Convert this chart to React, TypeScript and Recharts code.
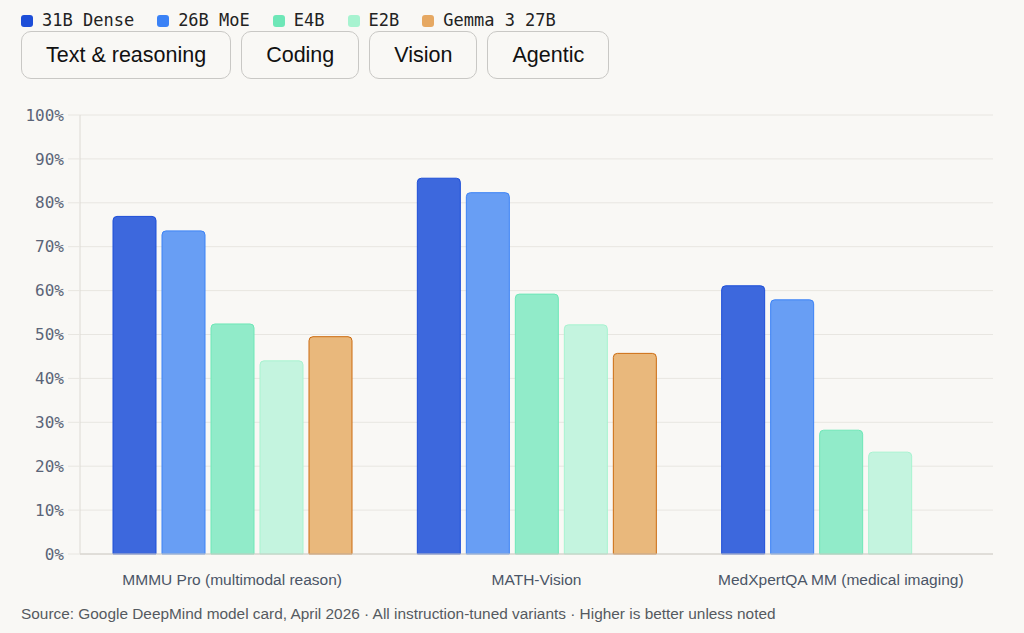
import { BarChart, Bar, XAxis, YAxis, CartesianGrid } from 'recharts';

const benchmarks = ['MMMU Pro (multimodal reason)', 'MATH-Vision', 'MedXpertQA MM (medical imaging)'];
const dense31b = [76.9, 85.6, 61.1];
const moe26b = [73.6, 82.3, 57.9];
const e4b = [52.4, 59.2, 28.2];
const e2b = [44.0, 52.2, 23.2];
const gemma3 = [49.5, 45.7, null];
const yTicks = [0, 10, 20, 30, 40, 50, 60, 70, 80, 90, 100];
const tabs = ['Text & reasoning', 'Coding', 'Vision', 'Agentic'];

const series = [
  { key: 'dense', name: '31B Dense', fill: '#3d68dd', stroke: '#1d4ed8', swatch: '#1d4ed8' },
  { key: 'moe', name: '26B MoE', fill: '#689ef4', stroke: '#3b82f6', swatch: '#3b82f6' },
  { key: 'e4b', name: 'E4B', fill: '#91ebc9', stroke: '#6ee7b7', swatch: '#6ee7b7' },
  { key: 'e2b', name: 'E2B', fill: '#c4f4df', stroke: '#a7f3d0', swatch: '#a7f3d0' },
  { key: 'gemma', name: 'Gemma 3 27B', fill: '#e9b87c', stroke: '#cc6a0e', swatch: '#e6a862' },
];

const data = benchmarks.map((b, i) => ({
  name: b,
  dense: dense31b[i],
  moe: moe26b[i],
  e4b: e4b[i],
  e2b: e2b[i],
  gemma: gemma3[i],
}));

const mono = '"DejaVu Sans Mono", monospace';
const sans = '"Liberation Sans", Arial, sans-serif';

export default function App() {
  return (
    <div style={{ position: 'fixed', left: 0, top: 0, width: 1024, height: 633, background: '#f9f8f5', overflow: 'hidden' }}>
      <div style={{ position: 'absolute', left: 21, top: 10, display: 'flex', gap: 23, fontFamily: mono, fontSize: 17, color: '#222', lineHeight: '21px' }}>
        {series.map((s) => (
          <div key={s.key} style={{ display: 'flex', alignItems: 'center', gap: 9 }}>
            <span style={{ width: 12, height: 12, borderRadius: 3, background: s.swatch, display: 'inline-block' }} />
            <span>{s.name}</span>
          </div>
        ))}
      </div>
      <div style={{ position: 'absolute', left: 21, top: 31, display: 'flex', gap: 10 }}>
        {tabs.map((t) => (
          <div key={t} style={{
            height: 46, padding: '0 24px', border: '1px solid #c9c8c5', borderRadius: 10,
            display: 'flex', alignItems: 'center', fontFamily: sans, fontSize: 21.5, color: '#111', background: '#f9f8f5',
          }}>{t}</div>
        ))}
      </div>
      <div style={{ position: 'absolute', left: 0, top: 100 }}>
        <BarChart width={1024} height={494} data={data} margin={{ top: 15, right: 31, left: 0, bottom: 0 }}
          barCategoryGap={33} barGap={6}>
          <CartesianGrid vertical={false} stroke="#e8e6e1" />
          <XAxis dataKey="name" height={40} tickLine={false} tickSize={0} tickMargin={20}
            axisLine={{ stroke: '#cfccc6' }}
            tick={{ fontSize: 15.5, fill: '#4b5566', fontFamily: sans }} />
          <YAxis width={80} domain={[0, 100]} ticks={yTicks} tickFormatter={(v) => `${v}%`}
            axisLine={{ stroke: '#dddad4' }} tickLine={{ stroke: '#e8e6e1' }} tickSize={12} tickMargin={4}
            tick={{ fontSize: 16, fill: '#5b6478', fontFamily: mono }} />
          {series.map((s) => (
            <Bar key={s.key} dataKey={s.key} name={s.name} fill={s.fill} stroke={s.stroke} strokeWidth={1}
              radius={[4, 4, 0, 0]} isAnimationActive={false} />
          ))}
        </BarChart>
      </div>
      <div style={{ position: 'absolute', left: 21, top: 605, fontFamily: sans, fontSize: 15.4, color: '#555a60', whiteSpace: 'nowrap' }}>
        Source: Google DeepMind model card, April 2026 · All instruction-tuned variants · Higher is better unless noted
      </div>
    </div>
  );
}
